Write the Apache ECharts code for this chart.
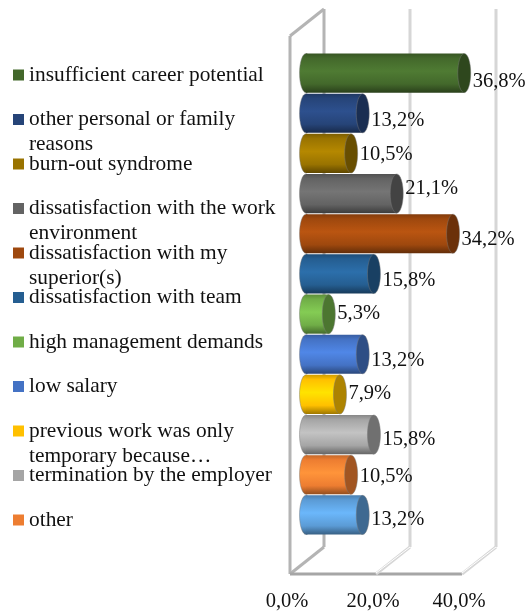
<!DOCTYPE html>
<html>
<head>
<meta charset="utf-8">
<title>Reasons for leaving</title>
<style>
html,body{margin:0;padding:0;background:#fff;}
#chart{width:526px;height:612px;}
</style>
<script src="https://cdn.jsdelivr.net/npm/echarts@6/dist/echarts.min.js"></script>
</head>
<body>
<div id="chart"></div>
<script>
// legend rows: the second line of a label goes after the | sign
var legendNames = [
    'insufficient career potential',
    'other personal or family|reasons',
    'burn-out syndrome',
    'dissatisfaction with the work|environment',
    'dissatisfaction with my|superior(s)',
    'dissatisfaction with team',
    'high management demands',
    'low salary',
    'previous work was only|temporary because…',
    'termination by the employer',
    'other'
];
// the last bar has no entry in the legend of the original
var unlabelledBar = '(no legend entry)';
var values = [36.8, 13.2, 10.5, 21.1, 34.2, 15.8, 5.3, 13.2, 7.9, 15.8, 10.5, 13.2];
var colors = ['#43682B', '#264478', '#997300', '#636363', '#9E480E', '#255E91',
    '#70AD47', '#4472C4', '#FFC000', '#A5A5A5', '#ED7D31', '#5B9BD5'];
var axisTicks = [0, 20, 40];

var FONT = '"Liberation Serif", "Times New Roman", serif';
var depthX = 34, depthY = 27;
// labels in the original don't sit on the bar centre
var labelNudge = [9, 7, 1, -5, 6, 7, 0, 6, -1, 5, 2, 5];

var barNames = legendNames.concat([unlabelledBar]);
var dom = document.getElementById('chart');
var myChart = echarts.init(dom);

function shade(hex, f) {
    var n = parseInt(hex.slice(1), 16);
    var r = n >> 16, g = (n >> 8) & 255, b = n & 255;
    function c(v) {
        return Math.min(255, Math.round(v * f));
    }
    return 'rgb(' + c(r) + ',' + c(g) + ',' + c(b) + ')';
}

function tubeFill(color) {
    return new echarts.graphic.LinearGradient(0, 0, 0, 1, [
        {offset: 0, color: shade(color, 0.82)},
        {offset: 0.12, color: shade(color, 1.0)},
        {offset: 0.45, color: shade(color, 1.18)},
        {offset: 0.78, color: shade(color, 1.0)},
        {offset: 1, color: shade(color, 0.62)}
    ]);
}

function renderBar(color, idx) {
    return function (params, api) {
        var start = api.coord([0, api.value(1)]);
        var end = api.coord([api.value(0), api.value(1)]);
        var h = api.size([0, 1])[1] - 1;
        var rx = 6.5;
        var edge = 'rgba(120,120,120,0.45)';
        return {
            type: 'group',
            children: [
                {type: 'ellipse', shape: {cx: start[0], cy: start[1], rx: rx, ry: h / 2},
                    style: {fill: tubeFill(color), stroke: edge, lineWidth: 1}},
                {type: 'rect', shape: {x: start[0], y: start[1] - h / 2, width: end[0] - start[0], height: h},
                    style: {fill: tubeFill(color)}},
                {type: 'ellipse', shape: {cx: end[0], cy: end[1], rx: rx, ry: h / 2},
                    style: {fill: shade(color, 0.68), stroke: edge, lineWidth: 1}},
                {type: 'text', style: {
                    text: api.value(0).toFixed(1).replace('.', ',') + '%',
                    x: end[0] + rx + 2,
                    y: end[1] + labelNudge[idx],
                    fill: '#111',
                    font: '20.5px ' + FONT,
                    verticalAlign: 'middle'
                }}
            ]
        };
    };
}

// one wall line set per axis tick, back plane pushed up and right by the depth
function renderWall(params, api) {
    var x = api.coord([api.value(0), 0])[0];
    var sys = params.coordSys;
    var top = sys.y, bottom = sys.y + sys.height;
    var isLeft = params.dataIndex === 0;
    var wallColor = isLeft ? '#b4b4b4' : '#d6d6d6';
    var children = [
        {type: 'line', shape: {x1: x + depthX, y1: top - depthY, x2: x + depthX, y2: bottom - depthY},
            style: {stroke: wallColor, lineWidth: 3}},
        {type: 'line', shape: {x1: x, y1: bottom, x2: x + depthX, y2: bottom - depthY},
            style: {stroke: wallColor, lineWidth: 3}}
    ];
    if (isLeft) {
        children.push(
            {type: 'line', shape: {x1: x, y1: top, x2: x, y2: bottom}, style: {stroke: '#b4b4b4', lineWidth: 3}},
            {type: 'line', shape: {x1: x, y1: top, x2: x + depthX, y2: top - depthY}, style: {stroke: '#b4b4b4', lineWidth: 3}},
            {type: 'line', shape: {x1: x, y1: bottom, x2: api.coord([40, 0])[0], y2: bottom}, style: {stroke: '#a6a6a6', lineWidth: 3}}
        );
    } else {
        // thin gap down the floor lines, they read as double in the original
        children.push({type: 'line', shape: {x1: x, y1: bottom - 1, x2: x + depthX, y2: bottom - depthY},
            style: {stroke: '#fff', lineWidth: 1}});
    }
    return {type: 'group', children: children};
}

var series = [{
    name: 'walls',
    type: 'custom',
    xAxisIndex: 0,
    yAxisIndex: 0,
    clip: false,
    silent: true,
    z: 1,
    renderItem: renderWall,
    encode: {x: 0},
    data: axisTicks.map(function (t) { return [t]; })
}];
barNames.forEach(function (name, i) {
    series.push({
        name: name,
        type: 'custom',
        xAxisIndex: 1,
        yAxisIndex: 1,
        clip: false,
        z: 2,
        itemStyle: {color: colors[i]},
        renderItem: renderBar(colors[i], i),
        encode: {x: 0, y: 1},
        data: [[values[i], i]]
    });
});

var legends = legendNames.map(function (name, i) {
    return {
        data: [{name: name, itemStyle: {color: colors[i]}}],
        left: 13,
        top: 75 + i * 44.5 - 37.5,
        itemWidth: 11,
        itemHeight: 11,
        icon: 'rect',
        padding: 0,
        selectedMode: false,
        formatter: function (n) {
            var parts = n.split('|');
            return '\n' + parts[0] + '\n' + (parts[1] || ' ');
        },
        textStyle: {fontFamily: FONT, fontSize: 21.4, lineHeight: 25, color: '#111'}
    };
});

var option = {
    animation: false,
    backgroundColor: '#fff',
    legend: legends,
    grid: [
        {left: 290, top: 36, width: 172, height: 539},
        {left: 306, top: 53, width: 172, height: 482}
    ],
    xAxis: [
        {
            type: 'value', gridIndex: 0, min: 0, max: 40, interval: 20,
            axisLine: {show: false},
            axisTick: {show: false},
            splitLine: {show: false},
            axisLabel: {
                margin: 17,
                padding: [0, 6, 0, 0],
                color: '#111',
                fontFamily: FONT,
                fontSize: 20.5,
                formatter: function (v) { return v.toFixed(1).replace('.', ',') + '%'; }
            }
        },
        {type: 'value', gridIndex: 1, min: 0, max: 40, show: false}
    ],
    yAxis: [
        {type: 'value', gridIndex: 0, min: 0, max: 1, show: false},
        {type: 'category', gridIndex: 1, inverse: true, data: barNames, show: false}
    ],
    series: series
};
myChart.setOption(option, true);
</script>
</body>
</html>
